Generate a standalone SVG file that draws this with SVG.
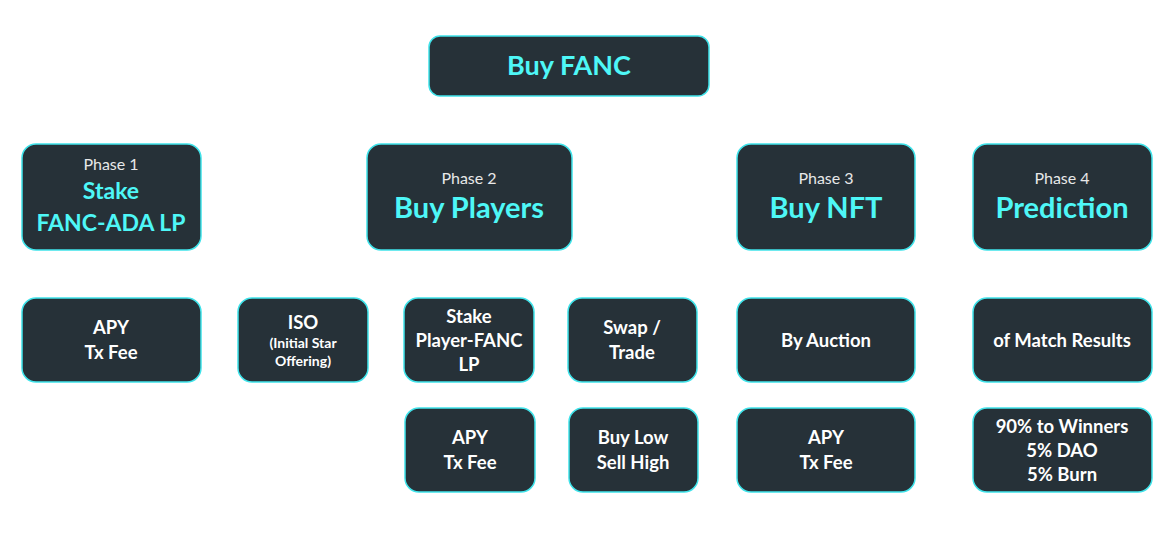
<svg xmlns="http://www.w3.org/2000/svg" width="1175" height="559" viewBox="0 0 1175 559">
<style>
.box{fill:#263138;stroke:#3fe3ea;stroke-width:1.5}
text{font-family:Lato,"Open Sans","Liberation Sans",sans-serif;font-weight:bold;text-anchor:middle}
.w{fill:#ffffff;font-size:18.5px}
.ph{fill:#e8e8e8;font-size:16px;font-weight:normal}
.c{fill:#4ef7f7}
.s{fill:#ffffff;font-size:14px}
</style>
<rect width="1175" height="559" fill="#ffffff"/>
<g id="connectors"></g>
<g id="buy-fanc"><rect class="box" x="429" y="36" width="280" height="60" rx="11"/><text class="c" x="569" y="75" font-size="27">Buy FANC</text></g>
<g id="phase1"><rect class="box" x="22" y="144" width="179" height="106" rx="14"/><text class="ph" x="111" y="170">Phase 1</text><text class="c" x="111" y="199" font-size="23">Stake</text><text class="c" x="111" y="231" font-size="23">FANC-ADA LP</text></g>
<g id="phase2"><rect class="box" x="367" y="144" width="205" height="106" rx="14"/><text class="ph" x="469" y="184">Phase 2</text><text class="c" x="469" y="218" font-size="29">Buy Players</text></g>
<g id="phase3"><rect class="box" x="737" y="144" width="178" height="106" rx="14"/><text class="ph" x="826" y="184">Phase 3</text><text class="c" x="826" y="218" font-size="29">Buy NFT</text></g>
<g id="phase4"><rect class="box" x="973" y="144" width="179" height="106" rx="14"/><text class="ph" x="1062" y="184">Phase 4</text><text class="c" x="1062" y="218" font-size="29">Prediction</text></g>
<g id="p1-apy"><rect class="box" x="22" y="298" width="179" height="84" rx="14"/><text class="w" x="111" y="334">APY</text><text class="w" x="111" y="359">Tx Fee</text></g>
<g id="iso"><rect class="box" x="238" y="298" width="130" height="84" rx="14"/><text class="w" x="303" y="329">ISO</text><text class="s" x="303" y="348">(Initial Star</text><text class="s" x="303" y="366">Offering)</text></g>
<g id="stake-lp"><rect class="box" x="404" y="298" width="130" height="84" rx="14"/><text class="w" x="469" y="323">Stake</text><text class="w" x="469" y="347">Player-FANC</text><text class="w" x="469" y="371">LP</text></g>
<g id="swap"><rect class="box" x="568" y="298" width="129" height="84" rx="14"/><text class="w" x="632" y="334">Swap /</text><text class="w" x="632" y="359">Trade</text></g>
<g id="auction"><rect class="box" x="737" y="298" width="178" height="84" rx="14"/><text class="w" x="826" y="347">By Auction</text></g>
<g id="match"><rect class="box" x="973" y="298" width="179" height="84" rx="14"/><text class="w" x="1062" y="347">of Match Results</text></g>
<g id="p2-apy"><rect class="box" x="405" y="408" width="130" height="84" rx="14"/><text class="w" x="470" y="444">APY</text><text class="w" x="470" y="469">Tx Fee</text></g>
<g id="buylow"><rect class="box" x="569" y="408" width="129" height="84" rx="14"/><text class="w" x="633" y="444">Buy Low</text><text class="w" x="633" y="469">Sell High</text></g>
<g id="p3-apy"><rect class="box" x="737" y="408" width="178" height="84" rx="14"/><text class="w" x="826" y="444">APY</text><text class="w" x="826" y="469">Tx Fee</text></g>
<g id="split"><rect class="box" x="973" y="408" width="179" height="84" rx="14"/><text class="w" x="1062" y="433">90% to Winners</text><text class="w" x="1062" y="457">5% DAO</text><text class="w" x="1062" y="481">5% Burn</text></g>
</svg>
